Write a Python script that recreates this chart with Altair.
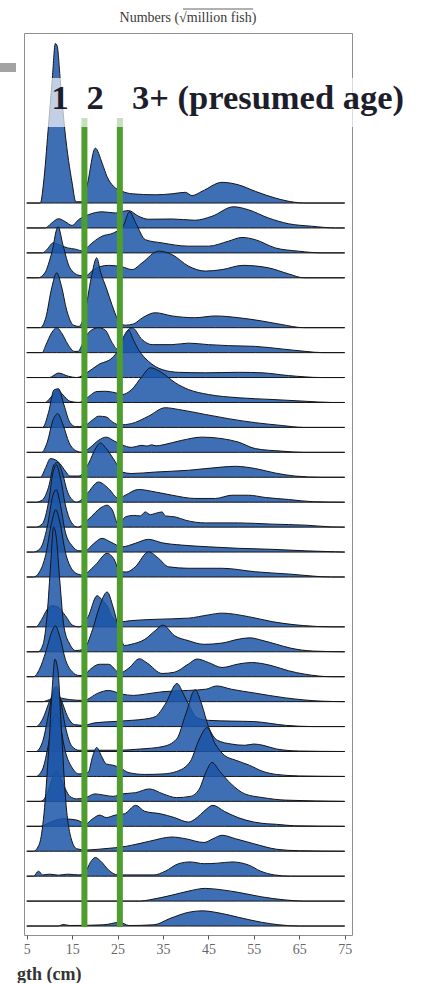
import altair as alt
import pandas as pd

# Length-frequency ridges, one per survey (top to bottom).
# Each list holds (length in cm, ridge height in row units).
r00 = [(5,0),(8.0,0),(8.7,0.8),(9.7,2.9),(10.6,4.9),(11.3,6.4),(11.7,6.3),(12.4,4.9),(13.4,2.9),(15.0,0.8),(15.8,0.05),(17.2,0.05),(18.3,0.72),(20.1,2.2),(21.6,1.6),(22.7,1.05),(24.1,0.67),(26.0,0.47),(28.2,0.37),(33.3,0.33),(37.0,0.37),(39.9,0.43),(41.4,0.3),(43.6,0.47),(48.0,0.83),(51.6,0.73),(55.3,0.47),(59.7,0.2),(64.0,0.03),(66,0),(75,0)]
r01 = [(5,0),(9.1,0),(10.5,0.2),(12.0,0.37),(13.5,0.25),(15.0,0.1),(16.4,0.33),(18.6,0.53),(21.6,0.65),(24.5,0.6),(27.4,0.7),(29.6,0.47),(31.8,0.35),(37,0.36),(42,0.31),(45.8,0.47),(50.5,0.85),(53.8,0.73),(58.2,0.4),(62.6,0.17),(67.7,0.07),(73,0),(75,0)]
r02 = [(5,0),(8.5,0),(9.5,0.15),(10.8,0.4),(12.5,0.3),(14,0.2),(15.7,0.15),(17.5,0.07),(18.6,0.27),(21.6,0.67),(24.1,0.8),(26.3,1.1),(27.6,1.65),(29,1.2),(31.1,0.53),(34.8,0.4),(40.6,0.27),(45,0.27),(49.4,0.47),(52.4,0.62),(55.3,0.53),(59.7,0.2),(64.8,0.07),(70,0),(75,0)]
r03 = [(5,0),(7.5,0),(9.0,0.2),(10.5,1.0),(11.9,2.05),(13.0,1.3),(14.5,0.4),(16.5,0.1),(17.9,0.07),(19.7,0.33),(23,0.5),(26,0.44),(28.2,0.33),(30.4,0.6),(34,1.07),(37,0.93),(40.6,0.47),(44.3,0.27),(48,0.33),(52.6,0.5),(58.2,0.4),(62.6,0.16),(66,0),(75,0)]
r04 = []
r05 = [(5,0),(8,0),(9.2,0.4),(10.5,1.6),(11.6,2.2),(12.6,1.7),(13.8,0.7),(15.3,0.1),(16.5,0.05),(17.8,0.6),(19.2,2.0),(20.4,2.8),(21.3,2.2),(22.5,1.6),(23.8,0.9),(25,0.35),(26.7,0.1),(28.5,0.15),(30.5,0.4),(33.3,0.6),(37,0.47),(42,0.4),(46.5,0.47),(51.6,0.4),(56.7,0.27),(61,0.13),(66,0.0),(75,0)]
r06 = [(5,0),(8.4,0),(9.2,0.3),(10.5,0.8),(11.6,1.0),(12.8,0.75),(14,0.35),(15.5,0.05),(16.3,0.05),(17.2,0.32),(18.6,0.8),(20.8,1.0),(22.3,0.9),(23.8,0.4),(24.9,0.15),(26,0.4),(27.3,0.9),(28.2,1.0),(30.4,0.52),(32.6,0.32),(37,0.32),(40.6,0.38),(45,0.32),(49.4,0.28),(55.3,0.25),(61,0.15),(66.3,0.05),(70,0),(75,0)]
r07 = [(5,0),(10,0),(12,0.18),(14.2,0.05),(16,0),(18.3,0.2),(20.8,0.52),(23.8,0.79),(25.2,1.12),(26.5,1.7),(27.4,1.9),(28.5,1.5),(29.6,1.12),(31.8,0.65),(34.8,0.32),(38.4,0.21),(44.3,0.19),(51.6,0.21),(56.8,0.19),(62.6,0.08),(70,0),(75,0)]
r08 = [(5,0),(9,0),(10.5,0.25),(11.8,0.5),(13,0.3),(14.5,0.05),(16.5,0),(18,0.15),(20.5,0.44),(22.3,0.45),(24.5,0.39),(26,0.32),(28,0.5),(30.4,1.05),(32.2,1.39),(34.8,1.19),(37.7,0.79),(40.6,0.52),(45,0.32),(51.6,0.19),(59,0.12),(66.3,0.05),(72,0),(75,0)]
r09 = [(5,0),(8.5,0),(9.8,0.6),(11,1.5),(12,1.55),(13.2,0.9),(14.5,0.2),(15.8,0.03),(17.5,0.05),(19.5,0.3),(20.8,0.45),(22.5,0.42),(24,0.2),(25.5,0.1),(28,0.15),(31.8,0.45),(35.5,0.79),(38.4,0.72),(44.3,0.52),(49.4,0.35),(55.3,0.19),(61,0.08),(66,0),(75,0)]
r10 = [(5,0),(8.3,0),(9.5,0.4),(10.8,1.3),(11.8,1.55),(13,1.1),(14.3,0.4),(16,0.05),(17.2,0),(19,0.2),(20.8,0.48),(22.5,0.61),(24.3,0.45),(26,0.3),(28,0.2),(30.4,0.28),(31.5,0.25),(32.5,0.3),(33.5,0.26),(35,0.3),(39.1,0.48),(43.6,0.61),(48,0.55),(51.6,0.41),(55.3,0.15),(61,0.05),(66,0),(75,0)]
r11 = [(5,0),(8,0),(9.2,0.4),(10.2,0.75),(11.3,0.7),(12.3,0.55),(13.5,0.25),(14.5,0.05),(16.5,0.05),(18.6,0.55),(20.3,1.2),(21.2,1.38),(22.3,1.2),(24.5,0.62),(26,0.21),(28,0.15),(33.3,0.21),(40.6,0.28),(48,0.41),(50.9,0.44),(55.3,0.35),(59.7,0.17),(64,0.05),(70,0),(75,0)]
r12 = [(5,0),(7,0),(8.5,0.1),(9.8,0.6),(11,1.5),(11.8,1.6),(12.8,1.2),(14,0.4),(15,0.1),(16,0),(18.3,0.35),(20.8,0.81),(23,0.55),(25.2,0.15),(26.7,0.28),(29.6,0.51),(33.3,0.41),(37,0.28),(42,0.15),(46.5,0.15),(50.2,0.28),(53.8,0.28),(57.5,0.19),(62.6,0.11),(68,0.02),(75,0)]
r13 = [(5,0),(7,0),(8.5,0.15),(9.8,1.0),(10.8,2.2),(11.5,2.5),(12.4,2.0),(13.5,0.9),(14.8,0.2),(16.2,0),(18.5,0.3),(21.6,0.81),(22.7,0.88),(23.8,0.7),(25.2,0.1),(26.7,0.41),(28.5,0.47),(30,0.45),(31.1,0.61),(32.2,0.5),(33.3,0.55),(34.8,0.61),(35.5,0.45),(37.7,0.41),(39.9,0.28),(44.3,0.17),(51.6,0.17),(59,0.12),(66.3,0.08),(72,0.01),(75,0)]
r14 = [(5,0),(6.5,0),(8,0.15),(9.5,1.0),(10.8,2.3),(11.5,2.5),(12.3,2.0),(13.5,0.8),(15,0.25),(16.5,0.05),(17.9,0.05),(19.5,0.3),(21.6,0.55),(23.5,0.4),(26,0.21),(28.9,0.35),(31.8,0.51),(34.8,0.37),(39.1,0.28),(45,0.21),(51.6,0.15),(59,0.11),(66.3,0.05),(73,0.01),(75,0)]
r15 = [(5,0),(6.5,0),(7.8,0.2),(9.2,0.9),(10.5,2.2),(11.4,2.7),(12.3,2.2),(13.5,1.0),(15,0.3),(16.5,0.1),(17.2,0.08),(20.1,0.48),(22.7,0.95),(24.1,0.75),(25.6,0.21),(27,0.2),(28.9,0.41),(31.8,1.01),(34,0.75),(36.2,0.41),(40.6,0.35),(48,0.35),(55.3,0.21),(62.6,0.12),(72.1,0),(75,0)]
r16 = []
r17 = [(5,0),(7,0),(8.3,0.3),(9.5,0.7),(10.5,0.85),(11.8,0.8),(13.5,0.45),(15.2,0.05),(16.5,0),(18.5,0.4),(20.5,1.25),(21.5,1.1),(22.5,0.9),(24,0.35),(25.5,0.2),(28,0.25),(33,0.3),(40.6,0.35),(45,0.48),(48,0.55),(53.8,0.41),(59,0.21),(66,0.05),(72,0),(75,0)]
r18 = [(5,0),(7.5,0),(8.6,0.3),(9.5,1.5),(10.3,3.6),(10.9,5.0),(11.5,4.6),(12.3,2.8),(13.2,1.0),(14.5,0.3),(15.8,0.05),(17.5,0.1),(19.5,0.9),(21,1.8),(22.7,2.4),(24,1.8),(25.3,0.9),(26.5,0.25),(28,0.3),(31,0.5),(33.3,0.85),(35,1.07),(37.5,0.65),(40.5,0.45),(44,0.3),(48,0.35),(51.5,0.5),(54.1,0.56),(57,0.45),(60,0.3),(63,0.15),(68,0.03),(75,0)]
r19 = [(5,0),(6.5,0),(7.8,0.3),(9.2,1.0),(10.5,1.8),(11.3,2.04),(12.3,1.6),(13.5,0.7),(15,0.2),(16.5,0.05),(17.5,0.05),(19,0.3),(21,0.5),(23,0.5),(25.5,0.15),(27.5,0.35),(29.8,0.72),(31.5,0.55),(34.8,0.13),(37.5,0.18),(40.6,0.51),(42.5,0.71),(45,0.57),(48,0.37),(51.6,0.51),(54.5,0.57),(59,0.44),(62.6,0.24),(66.3,0.1),(72,0),(75,0)]
r20 = [(5,0),(8.5,0),(10,0.08),(12,0.15),(14.5,0.08),(17.5,0.05),(20.8,0.35),(23,0.45),(26,0.3),(28.5,0.25),(31,0.3),(35,0.4),(40.6,0.45),(44.5,0.5),(46.8,0.63),(50,0.5),(55,0.35),(62,0.15),(70,0.02),(75,0)]
r21 = [(5,0),(7,0),(8.5,0.3),(10,1.0),(11.3,1.4),(12.5,1.1),(14,0.4),(15.5,0.08),(17.5,0.05),(20,0.15),(24,0.2),(28,0.25),(31,0.3),(33.3,0.4),(35.5,0.9),(38.1,1.73),(39.5,1.3),(40.6,0.9),(42.5,0.35),(45,0.25),(50,0.22),(55,0.2),(62,0.05),(68,0),(75,0)]
r22 = [(5,0),(7,0),(8.5,0.4),(9.8,1.5),(10.8,2.4),(11.5,2.6),(12.3,2.2),(13.5,1.0),(15,0.2),(16.5,0.05),(20,0.05),(25,0.05),(30,0.1),(35,0.2),(38,0.5),(40,1.5),(42.1,2.48),(43.5,1.9),(45,1.0),(47,0.45),(50,0.3),(53,0.25),(55,0.3),(57,0.25),(60,0.1),(65,0.02),(75,0)]
r23 = [(5,0),(7,0),(8.5,0.3),(9.8,1.3),(10.8,2.3),(11.5,2.5),(12.3,2.1),(13.5,1.0),(15,0.35),(16.5,0.1),(18.5,0.15),(19.5,0.8),(20.4,1.16),(21.5,0.8),(22.5,0.5),(24,0.45),(25.5,0.35),(27.5,0.15),(31,0.08),(35,0.1),(38,0.2),(41,0.6),(43,1.5),(44.7,1.96),(46.5,1.3),(48.5,0.85),(51,0.65),(54,0.45),(57,0.2),(60,0.08),(65,0.02),(75,0)]
r24 = [(5,0),(8,0),(9.5,0.3),(10.8,1.0),(11.5,1.2),(12.3,1.0),(13.5,0.5),(14.5,0.2),(16,0.1),(18,0.15),(20,0.3),(22,0.25),(24,0.2),(26,0.3),(29,0.35),(32,0.5),(35,0.3),(38,0.15),(41,0.2),(43,0.5),(44.5,1.2),(45.8,1.56),(47.5,1.2),(50,0.7),(53,0.3),(57,0.15),(62,0.05),(75,0)]
r25 = [(5,0),(8,0),(10,0.15),(13,0.3),(16,0.25),(18,0.1),(19.5,0.3),(21.1,0.45),(22.5,0.35),(24.5,0.45),(26.5,0.5),(29,0.84),(31,0.6),(34.5,0.5),(37.5,0.35),(40.6,0.17),(42.5,0.35),(44,0.6),(46,0.84),(48.5,0.6),(51.5,0.35),(55,0.17),(58,0.1),(60,0.08),(64,0.02),(75,0)]
r26 = [(5,0),(6.5,0),(7.8,0.3),(8.8,1.5),(9.8,4.0),(10.6,6.5),(11.2,7.7),(11.9,7.2),(12.6,5.0),(13.6,2.0),(14.8,0.5),(16,0.1),(18,0.05),(22,0.1),(27,0.2),(32,0.4),(37,0.57),(40,0.5),(44,0.35),(46,0.5),(48,0.64),(51,0.5),(55,0.3),(60,0.08),(65,0.02),(75,0)]
r27 = [(5,0),(6.5,0),(7.6,0.2),(8.5,0.05),(10,0.08),(12,0.04),(14,0.08),(16.5,0.05),(18,0.2),(19,0.55),(20.1,0.75),(21.3,0.6),(23,0.25),(25,0.05),(33,0.05),(35.5,0.2),(38.4,0.5),(41,0.57),(44,0.5),(47,0.52),(50.2,0.57),(53.8,0.45),(56.5,0.2),(59.5,0.05),(63,0),(75,0)]
r28 = [(5,0),(30,0),(32,0.05),(37,0.24),(40.6,0.4),(44.3,0.51),(48,0.45),(51.6,0.35),(56.7,0.17),(61.7,0.05),(66,0),(75,0)]
r29 = [(5,0),(12,0),(13,0.06),(14.5,0.02),(22,0.05),(25.5,0.15),(27.5,0.02),(33,0.05),(36.5,0.3),(40.6,0.55),(43.6,0.61),(48,0.5),(51.6,0.35),(56.7,0.15),(60.5,0.05),(65,0),(75,0)]

ridges = [r00, r01, r02, r03, r04, r05, r06, r07, r08, r09,
          r10, r11, r12, r13, r14, r15, r16, r17, r18, r19,
          r20, r21, r22, r23, r24, r25, r26, r27, r28, r29]

# presumed age boundaries (cm)
age_breaks = [17.7, 25.5]
tick_values = [5, 15, 25, 35, 45, 55, 65, 75]

n_rows = len(ridges)
records = []
for i, pts in enumerate(ridges):
    base = n_rows - 1 - i
    for length, h in pts:
        records.append({"row": f"r{i:02d}", "length": length, "top": base + h, "base": base})
df = pd.DataFrame(records)

W, H = 328, 902
xscale = alt.Scale(domain=[4.4, 76.6], nice=False, zero=False)
yscale = alt.Scale(domain=[-0.36, 35.82], nice=False, zero=False)

ridge = alt.Chart(df).mark_area(
    interpolate="monotone", fill="#1c56a8", fillOpacity=0.85,
    stroke="#151515", strokeWidth=1, strokeJoin="round"
).encode(
    x=alt.X("length:Q", scale=xscale,
            axis=alt.Axis(values=tick_values, title=None, grid=False, domain=False,
                          labelFont="Liberation Serif", labelFontSize=14, labelColor="#666666",
                          tickColor="#555555", tickSize=4, labelPadding=3)),
    y=alt.Y("top:Q", scale=yscale, axis=None),
    y2="base:Q",
    detail="row:N",
)

breaks_df = pd.DataFrame({"length": age_breaks, "y0": [-0.04] * 2, "y1": [32.41] * 2})
breaks = alt.Chart(breaks_df).mark_rule(color="#4f9d2f", strokeWidth=6).encode(
    x=alt.X("length:Q", scale=xscale),
    y=alt.Y("y1:Q", scale=yscale),
    y2="y0:Q",
)

# translucent label panel
panel = alt.Chart(pd.DataFrame({"k": [0]})).mark_rect(fill="white", opacity=0.68).encode(
    x=alt.value(16), x2=alt.value(400), y=alt.value(45), y2=alt.value(94)
)

ages_df = pd.DataFrame({"label": ["1", "2", "3+ (presumed age)"],
                        "px": [36, 71, 108], "al": ["center", "center", "left"]})
age_text = []
for _, r in ages_df.iterrows():
    age_text.append(
        alt.Chart(pd.DataFrame({"label": [r["label"]]})).mark_text(
            font="Liberation Serif", fontSize=34.5, fontWeight="bold", color="#1d1d2b",
            align=r["al"], baseline="alphabetic"
        ).encode(text="label:N", x=alt.value(int(r["px"])), y=alt.value(76))
    )

title = alt.Chart(pd.DataFrame({"t": ["Numbers (\u221amillion fish)"]})).mark_text(
    font="Liberation Serif", fontSize=14, color="#3a3a3a", align="center", baseline="middle"
).encode(text="t:N", x=alt.value(164), y=alt.value(-15))

# radical bar over "million fish"
radical_bar = alt.Chart(pd.DataFrame({"k": [0]})).mark_rule(color="#3a3a3a", strokeWidth=0.8).encode(
    x=alt.value(159), x2=alt.value(229), y=alt.value(-24)
)

xtitle = alt.Chart(pd.DataFrame({"t": ["gth (cm)"]})).mark_text(
    font="Liberation Serif", fontSize=18, fontWeight="bold", color="#333333",
    align="left", baseline="middle"
).encode(text="t:N", x=alt.value(-7), y=alt.value(942))

bullet = alt.Chart(pd.DataFrame({"k": [0]})).mark_rect(fill="#a3a3a3").encode(
    x=alt.value(-24), x2=alt.value(-8), y=alt.value(30), y2=alt.value(39)
)

chart = alt.layer(ridge, breaks, panel, *age_text, title, radical_bar, xtitle, bullet).properties(
    width=W, height=H,
    padding={"left": 24, "top": 33, "right": 70, "bottom": 48},
    autosize=alt.AutoSizeParams(type="none"),
    background="white",
).configure_view(stroke="#8f8f8f", strokeWidth=1)

chart.save("out.html", embed_options={"renderer": "svg", "actions": False})
